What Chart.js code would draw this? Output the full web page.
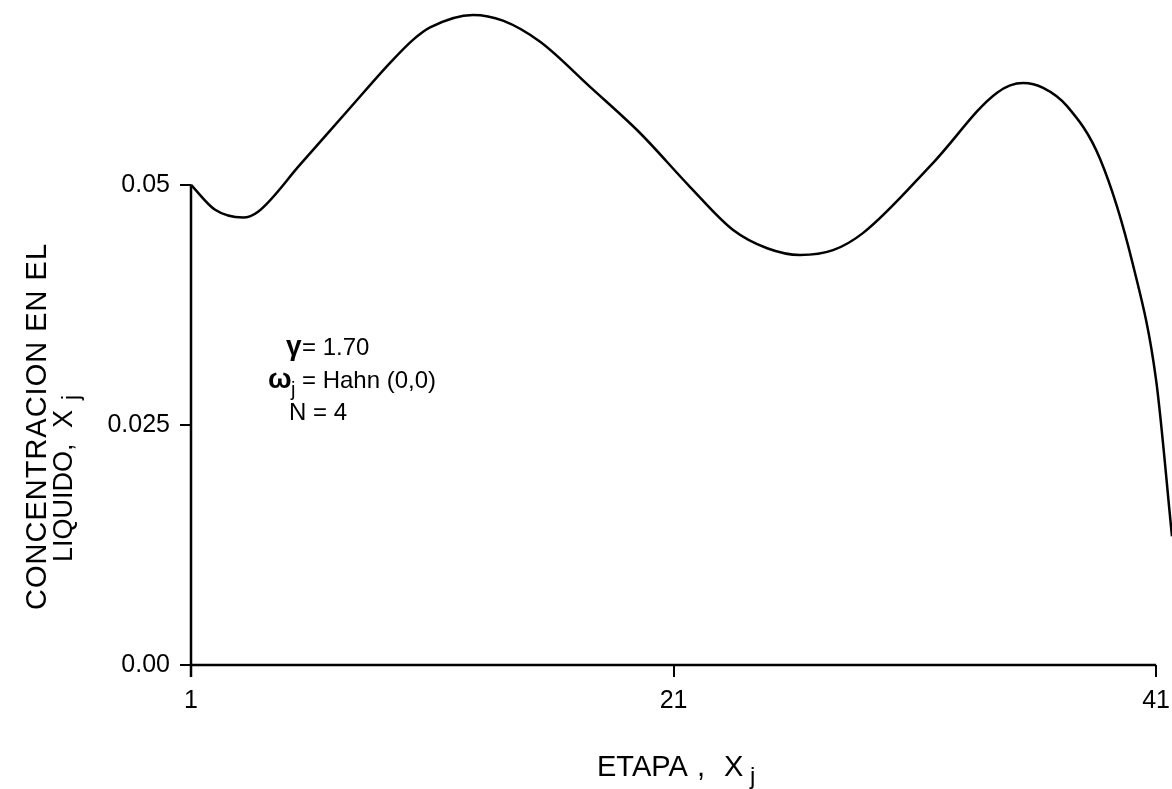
<!DOCTYPE html>
<html>
<head>
<meta charset="utf-8">
<script src="https://cdn.jsdelivr.net/npm/chart.js@4.4.1/dist/chart.umd.min.js"></script>
<style>
  html, body { margin: 0; padding: 0; background: #fff; }
  #wrap { width: 1172px; height: 789px; }
</style>
</head>
<body>
<div id="wrap"><canvas id="concChart" width="1172" height="789"></canvas></div>
<script>
// etapa (stage) vs concentration
const etapa = [1, 2.0, 3.16, 3.78, 5.52, 7.59, 9.25, 10.2, 10.91, 12.69, 13.93, 15.47, 17.54, 19.61, 21.68,
  23.47, 24.88, 26.24, 27.61, 28.86, 31.76, 34.41, 35.49, 36.32, 37.31, 38.68, 40.05, 41.0, 41.66];
const concentracion = [0.0500, 0.0474, 0.0466, 0.0472, 0.0521, 0.0580, 0.0627, 0.0651, 0.0664, 0.0677, 0.0671,
  0.0649, 0.0602, 0.0554, 0.0498, 0.0453, 0.0434, 0.0427, 0.0432, 0.0450, 0.0523, 0.0596, 0.0606,
  0.0601, 0.0582, 0.0527, 0.0416, 0.0297, 0.0134];
const xTicks = [1, 21, 41];
const yTicks = [0, 0.025, 0.05];
const yTickLabels = ['0.00', '0.025', '0.05'];

const FONT = "'Liberation Sans', Arial, sans-serif";

// axes lines drawn by hand: left one only up to 0.05, bottom one only to 41
const extras = {
  id: 'extras',
  afterDraw(chart) {
    const { ctx, scales: { x, y } } = chart;
    ctx.save();
    ctx.strokeStyle = '#000';
    ctx.lineWidth = 2.5;
    ctx.beginPath();
    ctx.moveTo(x.getPixelForValue(1), y.getPixelForValue(0) + 12);
    ctx.lineTo(x.getPixelForValue(1), y.getPixelForValue(0.05));
    ctx.moveTo(x.getPixelForValue(1), y.getPixelForValue(0));
    ctx.lineTo(x.getPixelForValue(41), y.getPixelForValue(0));
    ctx.stroke();

    ctx.fillStyle = '#000';
    ctx.textBaseline = 'alphabetic';

    // parameters
    ctx.font = "bold 28px " + FONT;
    ctx.fillText('γ', 286, 355);
    ctx.font = "24px " + FONT;
    ctx.fillText('= 1.70', 302, 355);
    ctx.font = "bold 28px " + FONT;
    ctx.fillText('ω', 268, 388);
    ctx.font = "20px " + FONT;
    ctx.fillText('j', 291, 396);
    ctx.font = "24px " + FONT;
    ctx.fillText('= Hahn (0,0)', 302, 388);
    ctx.fillText('N = 4', 289, 420);

    // x title
    ctx.font = "29px " + FONT;
    ctx.fillText('ETAPA', 597, 776);
    ctx.fillText(',', 697, 776);
    ctx.fillText('X', 724, 776);
    ctx.font = "24px " + FONT;
    ctx.fillText('j', 750, 784);

    // y title (rotated)
    ctx.save();
    ctx.translate(46, 610);
    ctx.rotate(-Math.PI / 2);
    ctx.font = "29px " + FONT;
    ctx.letterSpacing = '1px';
    ctx.fillText('CONCENTRACION EN EL', 0, 0);
    ctx.restore();
    ctx.save();
    ctx.translate(72, 562);
    ctx.rotate(-Math.PI / 2);
    ctx.font = "27px " + FONT;
    ctx.fillText('LIQUIDO,', 0, 0);
    ctx.fillText('X', 134, 0);
    ctx.font = "23px " + FONT;
    ctx.fillText('j', 162, 7);
    ctx.restore();
    ctx.restore();
  }
};

new Chart(document.getElementById('concChart'), {
  type: 'line',
  data: {
    datasets: [{
      data: etapa.map((v, i) => ({ x: v, y: concentracion[i] })),
      borderColor: '#000',
      borderWidth: 2.5,
      pointRadius: 0,
      fill: false,
      cubicInterpolationMode: 'monotone',
      clip: false
    }]
  },
  options: {
    responsive: false,
    animation: false,
    layout: { padding: { top: 12, right: 0, left: 0, bottom: 0 } },
    plugins: { legend: { display: false }, tooltip: { enabled: false } },
    scales: {
      x: {
        type: 'linear',
        min: 1,
        max: 41.66,
        afterBuildTicks: s => { s.ticks = xTicks.map(v => ({ value: v })); },
        afterFit: s => { s.height = 124; s.paddingLeft = 0; s.paddingRight = 0; },
        border: { display: false },
        grid: { display: true, drawOnChartArea: false, color: '#000', lineWidth: 2, tickLength: 12 },
        ticks: { color: '#000', font: { family: FONT, size: 25 }, padding: 9, maxRotation: 0,
          callback: v => String(v) }
      },
      y: {
        type: 'linear',
        min: 0,
        max: 0.068,
        afterBuildTicks: s => { s.ticks = yTicks.map(v => ({ value: v })); },
        afterFit: s => { s.width = 191; s.paddingTop = 0; s.paddingBottom = 0; },
        border: { display: false },
        grid: { display: true, drawOnChartArea: false, color: '#000', lineWidth: 2, tickLength: 11 },
        ticks: { color: '#000', font: { family: FONT, size: 25 }, padding: 10,
          callback: v => yTickLabels[yTicks.indexOf(v)] }
      }
    }
  },
  plugins: [extras]
});
</script>
</body>
</html>
